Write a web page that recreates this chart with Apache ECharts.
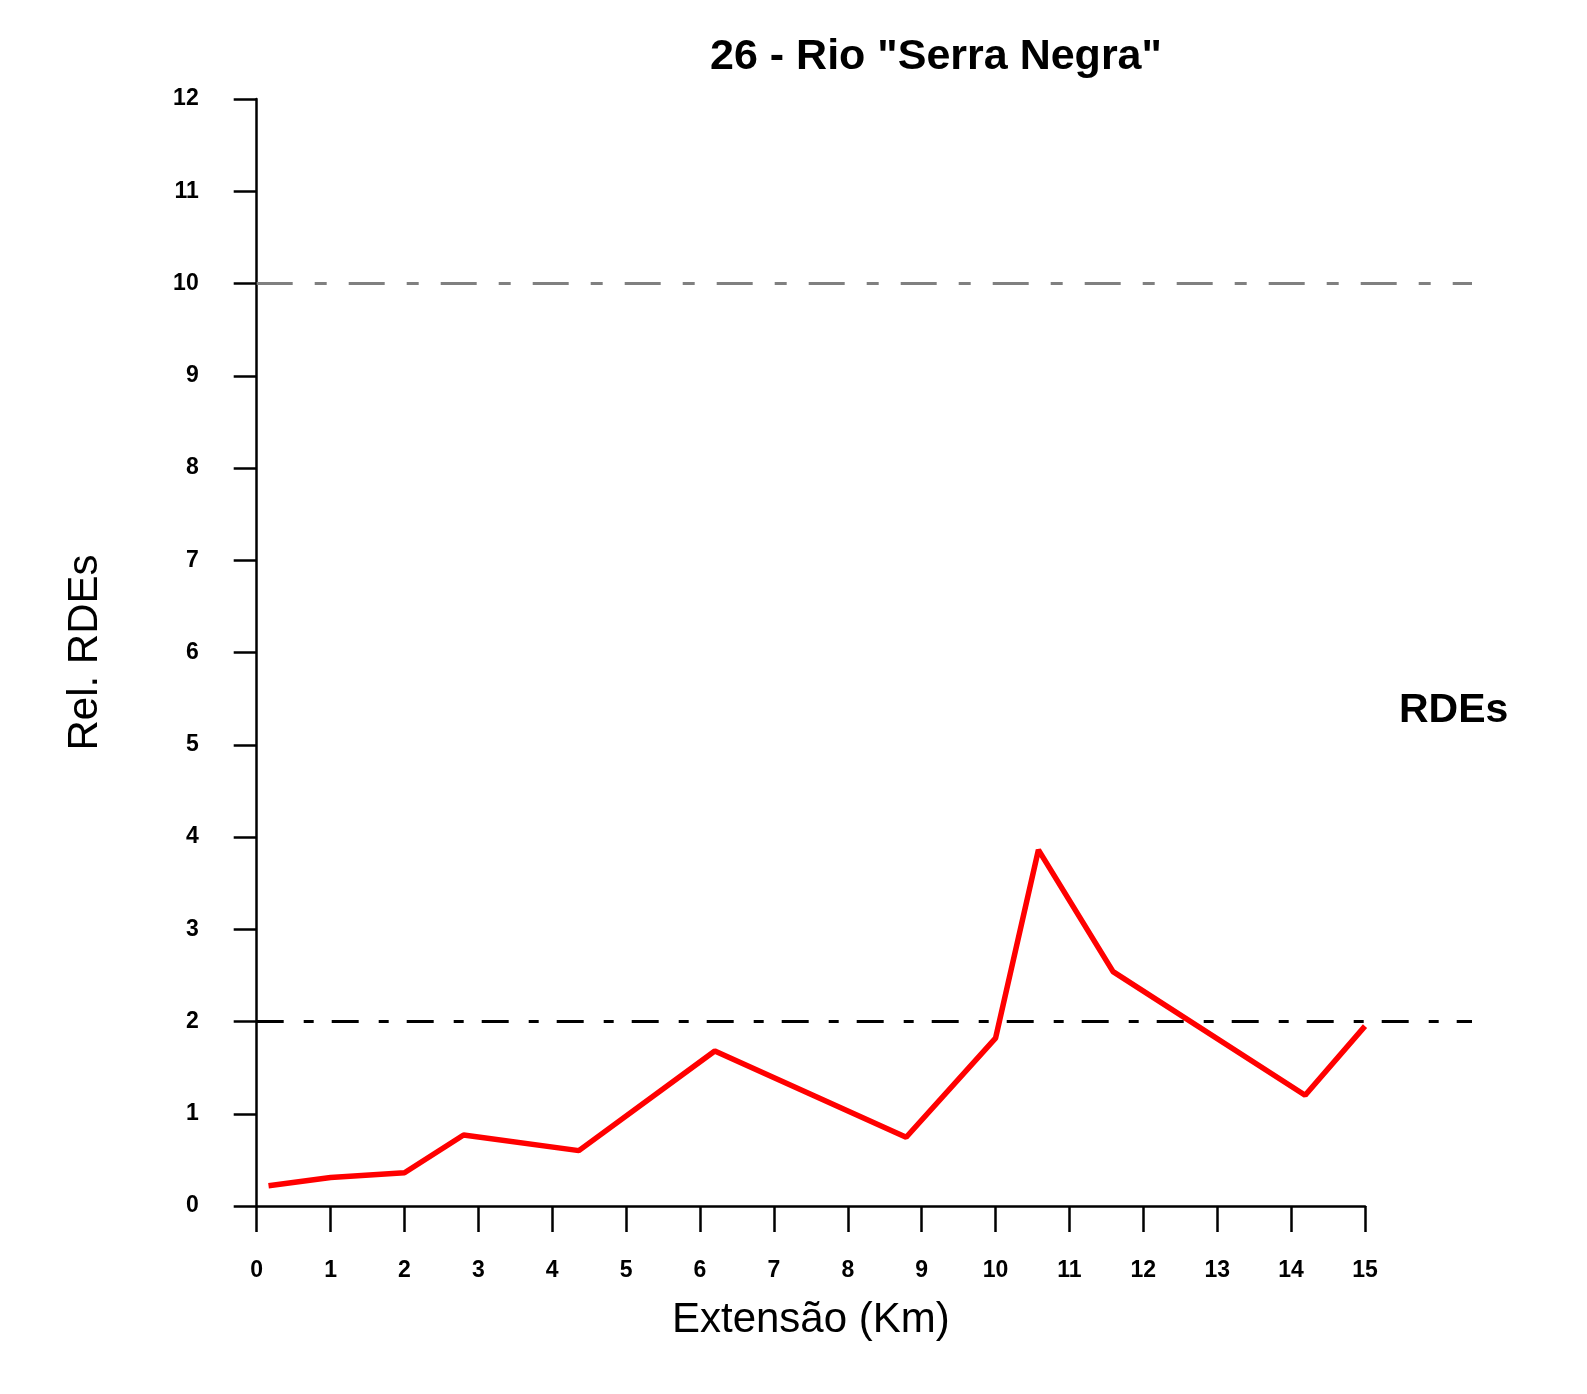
<!DOCTYPE html>
<html>
<head>
<meta charset="utf-8">
<script src="https://cdn.jsdelivr.net/npm/echarts@6/dist/echarts.min.js"></script>
<style>
html,body{margin:0;padding:0;background:#fff;}
#chart{width:1587px;height:1394px;}
</style>
</head>
<body>
<div id="chart"></div>
<script>
// ---- data ----
var titleText = '26 - Rio "Serra Negra"';
var seriesName = 'RDEs';
var xAxisName = 'Extensão (Km)';
var yAxisName = 'Rel. RDEs';
var kmValues   = [0.16, 1.0, 2.0, 2.8, 4.36, 6.2, 8.79, 10.0, 10.58, 11.59, 14.19, 15.0];
var rdeValues  = [0.22, 0.31, 0.36, 0.77, 0.6, 1.68, 0.745, 1.82, 3.86, 2.54, 1.2, 1.95];
var xTicks = [0, 15, 1];   // min, max, step
var yTicks = [0, 12, 1];
var limitHigh = 10;   // grey reference level
var limitLow = 2;     // black reference level
var refLineEndKm = 16.45;

var FONT = 'Liberation Sans, Arial, sans-serif';
var chart = echarts.init(document.getElementById('chart'), null, {renderer: 'canvas'});

var points = kmValues.map(function (x, i) { return [x, rdeValues[i]]; });
var highLine = [[xTicks[0], limitHigh], [refLineEndKm, limitHigh]];
var lowLine = [[xTicks[0], limitLow], [refLineEndKm, limitLow]];

var option = {
  backgroundColor: '#ffffff',
  animation: false,
  title: [
    {
      text: titleText,
      left: 931, top: 31, textAlign: 'center',
      textStyle: {fontFamily: FONT, fontSize: 43, fontWeight: 'bold', color: '#000'}
    },
    {
      text: seriesName,
      left: 1394, top: 685,
      textStyle: {fontFamily: FONT, fontSize: 41, fontWeight: 'bold', color: '#000'}
    }
  ],
  grid: [
    {left: 256.7, right: 222, top: 99, bottom: 188, containLabel: false},
    {left: 256.7, right: 115, top: 99, bottom: 188, containLabel: false}
  ],
  xAxis: [
    {
      type: 'value', gridIndex: 0,
      min: xTicks[0], max: xTicks[1], interval: xTicks[2],
      name: xAxisName,
      nameLocation: 'middle',
      nameGap: 93,
      nameTextStyle: {fontFamily: FONT, fontSize: 42, color: '#000'},
      axisLine: {show: true, onZero: false, lineStyle: {color: '#000', width: 2.5}},
      axisTick: {show: true, inside: false, length: 26, lineStyle: {color: '#000', width: 2.5}},
      axisLabel: {margin: 53, fontFamily: FONT, fontSize: 23, fontWeight: 'bold', color: '#000'},
      splitLine: {show: false}
    },
    {
      type: 'value', gridIndex: 1, show: false,
      min: xTicks[0], max: refLineEndKm,
      splitLine: {show: false}
    }
  ],
  yAxis: [
    {
      type: 'value', gridIndex: 0,
      min: yTicks[0], max: yTicks[1], interval: yTicks[2],
      name: yAxisName,
      nameLocation: 'middle',
      nameRotate: 90,
      nameGap: 150,
      nameTextStyle: {fontFamily: FONT, fontSize: 42, color: '#000'},
      axisLine: {show: true, onZero: false, lineStyle: {color: '#000', width: 2.5}},
      axisTick: {show: true, inside: false, length: 23, lineStyle: {color: '#000', width: 2.5}},
      axisLabel: {margin: 58, fontFamily: FONT, fontSize: 23, fontWeight: 'bold', color: '#000'},
      splitLine: {show: false}
    },
    {
      type: 'value', gridIndex: 1, show: false,
      min: yTicks[0], max: yTicks[1],
      splitLine: {show: false}
    }
  ],
  series: [
    {
      name: 'limit10', type: 'line', xAxisIndex: 1, yAxisIndex: 1,
      data: highLine, symbol: 'none', silent: true, z: 3,
      lineStyle: {color: '#808080', width: 3, type: [36, 22, 12, 22]}
    },
    {
      name: 'limit2', type: 'line', xAxisIndex: 1, yAxisIndex: 1,
      data: lowLine, symbol: 'none', silent: true, z: 3,
      lineStyle: {color: '#000000', width: 3, type: [27, 20, 10, 18]}
    },
    {
      name: seriesName,
      type: 'line',
      data: points,
      clip: false,
      symbol: 'none',
      lineStyle: {color: '#ff0000', width: 5.5},
      z: 5
    }
  ]
};
chart.setOption(option);
</script>
</body>
</html>
